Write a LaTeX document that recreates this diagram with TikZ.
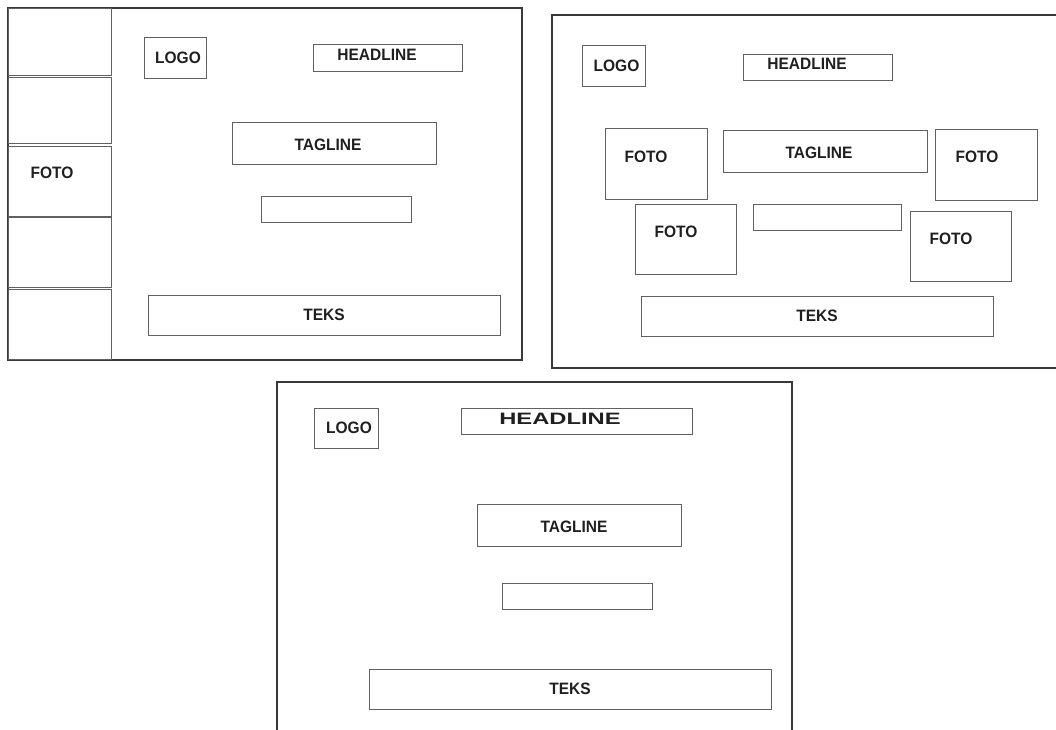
\documentclass[tikz,border=0pt]{standalone}
\usepackage{fontspec}
\setmainfont{Liberation Sans}
\usepackage{graphicx}
\newcommand{\lbl}[2][0.94]{\scalebox{#1}[1]{#2}}

\begin{document}
\begin{tikzpicture}[
  x=1pt,
  y=-1pt,
  line width=0.9pt,
  every node/.style={font=\fontsize{16.5}{19}\selectfont\bfseries, text=black!88},
  panelframe/.style={draw=black!78, line width=1.4pt},
  layoutbox/.style={draw=black!62, line width=0.9pt, inner sep=0pt},
  fotocell/.style={layoutbox, minimum width=103pt, minimum height=68pt},
  fotobox/.style={layoutbox, minimum width=102pt, minimum height=71pt},
  boxlabel/.style={inner sep=0pt},
]
\useasboundingbox (0,0) rectangle (1056,729);

% layout 1
\draw[panelframe] (8,8) rectangle (522,360);
\node[fotocell, minimum height=67pt] (A1) at (60,41.5) {};
\node[fotocell, minimum height=66pt] (A2) at (60,110) {};
\node[fotocell, minimum height=70pt, label={[boxlabel, xshift=-8pt, yshift=8pt]center:\lbl{FOTO}}] (A3) at (60,181) {};
\node[fotocell, minimum height=70pt] (A4) at (60,252) {};
\node[fotocell, minimum height=70pt] (A5) at (60,324) {};
\node[layoutbox, minimum width=62pt, minimum height=41pt, label={[boxlabel, xshift=3pt]center:\lbl{LOGO}}] (A6) at (175,57.5) {};
\node[layoutbox, minimum width=149pt, minimum height=27pt, label={[boxlabel, xshift=-11pt, yshift=2.5pt]center:\lbl{HEADLINE}}] (A7) at (388,57.5) {};
\node[layoutbox, minimum width=204pt, minimum height=42pt, label={[boxlabel, xshift=-6pt, yshift=-2pt]center:\lbl{TAGLINE}}] (A8) at (334,143) {};
\node[layoutbox, minimum width=150pt, minimum height=26pt] (A9) at (336,209) {};
\node[layoutbox, minimum width=352pt, minimum height=40pt] (A10) at (324,315) {\lbl{TEKS}};

% layout 2
\draw[panelframe] (1062,15) -- (552,15) -- (552,368) -- (1062,368);
\node[layoutbox, minimum width=63pt, minimum height=41pt, label={[boxlabel, xshift=3pt]center:\lbl{LOGO}}] (B1) at (613.5,65.5) {};
\node[layoutbox, minimum width=149pt, minimum height=26pt, label={[boxlabel, xshift=-10.5pt, yshift=3pt]center:\lbl{HEADLINE}}] (B2) at (817.5,67) {};
\node[fotobox, label={[boxlabel, xshift=-10pt, yshift=6.5pt]center:\lbl{FOTO}}] (B3) at (656,163.5) {};
\node[layoutbox, minimum width=204pt, minimum height=42pt, label={[boxlabel, xshift=-6pt, yshift=-2pt]center:\lbl{TAGLINE}}] (B4) at (825,151) {};
\node[fotobox, label={[boxlabel, xshift=-9pt, yshift=7.5pt]center:\lbl{FOTO}}] (B5) at (986,164.5) {};
\node[fotobox, minimum width=101pt, minimum height=70pt, label={[boxlabel, xshift=-9.5pt, yshift=7pt]center:\lbl{FOTO}}] (B6) at (685.5,239) {};
\node[layoutbox, minimum width=148pt, minimum height=26pt] (B7) at (827,217) {};
\node[fotobox, minimum width=101pt, minimum height=70pt, label={[boxlabel, xshift=-9.5pt, yshift=7pt]center:\lbl{FOTO}}] (B8) at (960.5,246) {};
\node[layoutbox, minimum width=352pt, minimum height=40pt] (B9) at (817,316) {\lbl{TEKS}};

% layout 3
\draw[panelframe] (277,735) -- (277,382) -- (792,382) -- (792,735);
\node[layoutbox, minimum width=64pt, minimum height=40pt, label={[boxlabel, xshift=3pt]center:\lbl{LOGO}}] (C1) at (346,428) {};
\node[layoutbox, minimum width=231pt, minimum height=26pt, label={[boxlabel, xshift=-16.5pt, yshift=2pt]center:\lbl[1.44]{HEADLINE}}] (C2) at (576.5,421) {};
\node[layoutbox, minimum width=204pt, minimum height=42pt, label={[boxlabel, xshift=-5pt, yshift=-2pt]center:\lbl{TAGLINE}}] (C3) at (579,525) {};
\node[layoutbox, minimum width=150pt, minimum height=26pt] (C4) at (577,596) {};
\node[layoutbox, minimum width=402pt, minimum height=40pt] (C5) at (570,689) {\lbl{TEKS}};
\end{tikzpicture}
\end{document}
